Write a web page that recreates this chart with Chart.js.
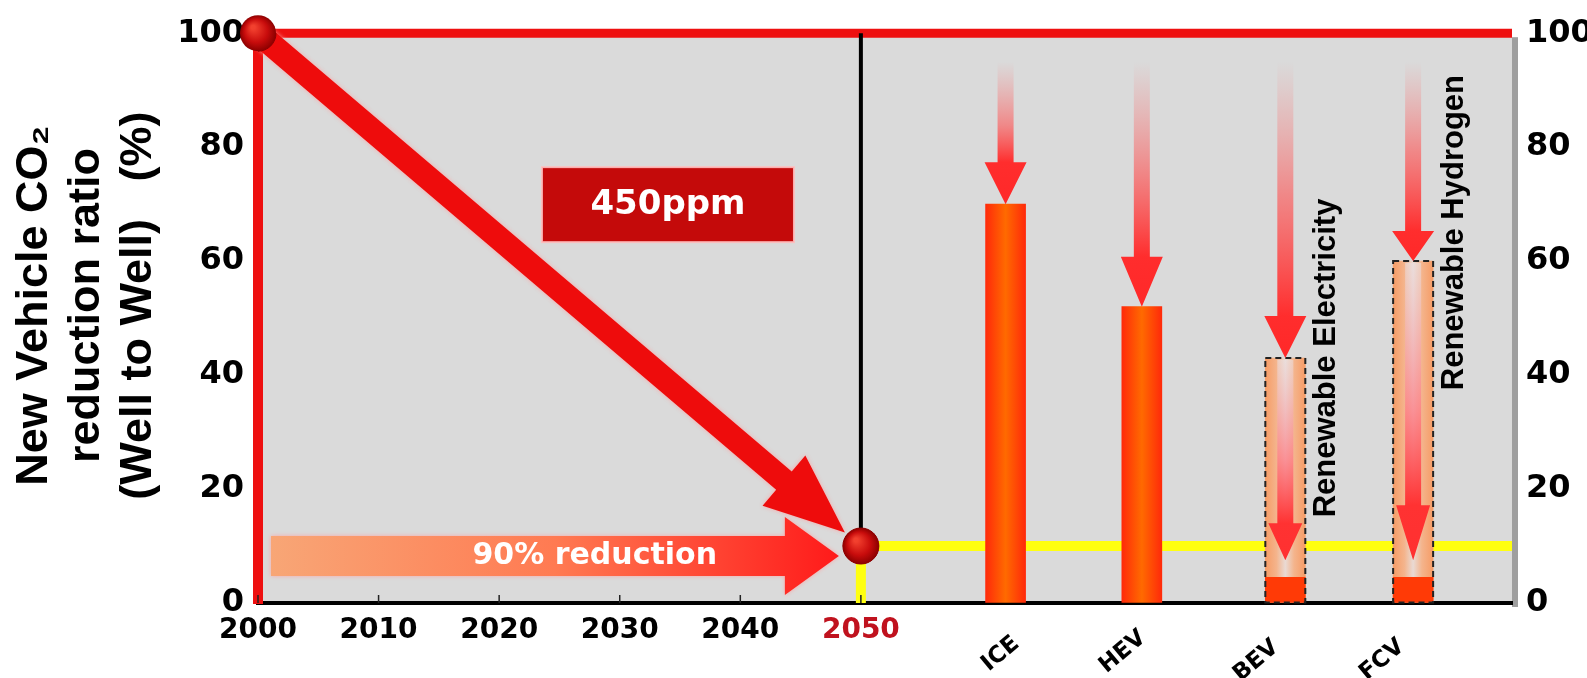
<!DOCTYPE html>
<html>
<head>
<meta charset="utf-8">
<script src="https://cdn.jsdelivr.net/npm/chart.js@4.4.1/dist/chart.umd.min.js"></script>
<style>
  html, body { margin: 0; padding: 0; background: #fff; }
  #wrap { width: 1587px; height: 678px; }
</style>
</head>
<body>
<div id="wrap"><canvas id="c" width="1587" height="678"></canvas></div>
<script>
// ---- data ----
// Reduction pathway for new vehicles (well to well), % of year-2000 level
const pathwayYears = [2000, 2050];
const pathwayRatio = [100, 10];
const yearTicks = [2000, 2010, 2020, 2030, 2040, 2050];
const ratioTicks = [0, 20, 40, 60, 80, 100];

// Vehicle columns (CO2 ratio, %)
const vehicles = ['ICE', 'HEV', 'BEV', 'FCV'];
const vehicleCO2 = [70, 52, 4.5, 4.5];          // BEV / FCV on renewable energy
const conventionalCO2 = [null, null, 43, 60];   // BEV / FCV on conventional energy
const energyNotes = [null, null, 'Renewable Electricity', 'Renewable Hydrogen'];

const headline = '450ppm';
const reductionLabel = '90% reduction';
const axisTitle = ['  New Vehicle CO\u2082', '  reduction ratio', '  (Well to Well)   (%)'];

// ---- layout / style ----
const layout = {
  xMax: 2104,
  slot: [2062, 2073.3, 2085.2, 2095.8],   // where each vehicle column sits on the year axis
  dropTop: 95,                             // value where the falling arrows fade in
  dropHead: [42, 50, 42, 30],
  innerHead: [0, 0, 37, 55],
  noteAt: [0, 0, 43, 65],                  // vertical centre of the rotated notes (value units)
  labelDx: [-5, -19, -29, -31],
  labelY: [654, 652, 661, 660],
  boxAt: [2034, 70]                        // centre of the 450ppm box (year, value)
};

const SANS = "'DejaVu Sans', sans-serif";
const ARIAL = "'Liberation Sans', Arial, sans-serif";

function hGrad(chart, cx, half, stops, fallback) {
  if (!isFinite(cx)) return fallback;
  const g = chart.ctx.createLinearGradient(cx - half, 0, cx + half, 0);
  stops.forEach(([o, c]) => g.addColorStop(o, c));
  return g;
}

const barFill = (c) => {
  if (c.type !== 'data' || !c.raw) return '#ff4a00';
  if (conventionalCO2[c.raw.k] != null) return '#ff3a06';
  const cx = c.chart.scales.x ? c.chart.scales.x.getPixelForValue(c.raw.x) : NaN;
  return hGrad(c.chart, cx, 20, [[0, '#ff2a0a'], [0.5, '#ff6a00'], [1, '#ff2a0a']], '#ff4a00');
};
const peachFill = (c) => {
  if (c.type !== 'data' || !c.raw) return '#f5b08a';
  const cx = c.chart.scales.x ? c.chart.scales.x.getPixelForValue(c.raw.x) : NaN;
  return hGrad(c.chart, cx, 20, [[0, '#f69c66'], [0.28, '#f4b48c'], [0.5, '#e9dad4'], [0.72, '#f4b48c'], [1, '#f69c66']], '#f5b08a');
};

function arrowPath(ctx, x0, y0, x1, y1, shaftHalf, headHalf, headLen) {
  const dx = x1 - x0, dy = y1 - y0, L = Math.hypot(dx, dy);
  const ux = dx / L, uy = dy / L, nx = -uy, ny = ux;
  const bx = x1 - ux * headLen, by = y1 - uy * headLen;
  ctx.beginPath();
  ctx.moveTo(x0 + nx * shaftHalf, y0 + ny * shaftHalf);
  ctx.lineTo(bx + nx * shaftHalf, by + ny * shaftHalf);
  ctx.lineTo(bx + nx * headHalf, by + ny * headHalf);
  ctx.lineTo(x1, y1);
  ctx.lineTo(bx - nx * headHalf, by - ny * headHalf);
  ctx.lineTo(bx - nx * shaftHalf, by - ny * shaftHalf);
  ctx.lineTo(x0 - nx * shaftHalf, y0 - ny * shaftHalf);
  ctx.closePath();
}

const decor = {
  id: 'decor',
  beforeDraw(chart) {
    const { ctx, chartArea: a } = chart;
    ctx.save();
    ctx.fillStyle = '#fff';
    ctx.fillRect(0, 0, chart.width, chart.height);
    ctx.fillStyle = '#9f9f9f';
    ctx.fillRect(a.right, a.top + 4, 6, a.bottom - a.top);
    ctx.fillStyle = '#dadada';
    ctx.fillRect(a.left, a.top, a.right - a.left, a.bottom - a.top);
    ctx.restore();
  },
  beforeDatasetsDraw(chart) {
    const { ctx, chartArea: a, scales: { x, y } } = chart;
    const pts = chart.getDatasetMeta(0).data;
    const p0 = pts[0], p1 = pts[1];
    const r = 18;
    ctx.save();
    // top frame line at 100 %
    ctx.strokeStyle = '#ee1010';
    ctx.lineWidth = 9;
    ctx.beginPath();
    ctx.moveTo(a.left - 5, y.getPixelForValue(100));
    ctx.lineTo(a.right, y.getPixelForValue(100));
    ctx.stroke();

    // 2050 divider
    const x50 = x.getPixelForValue(pathwayYears[1]);
    ctx.strokeStyle = '#000';
    ctx.lineWidth = 4;
    ctx.beginPath();
    ctx.moveTo(x50, a.top);
    ctx.lineTo(x50, p1.y - r);
    ctx.stroke();

    // target level
    const yT = y.getPixelForValue(pathwayRatio[1]);
    ctx.strokeStyle = '#ffff10';
    ctx.lineWidth = 10;
    ctx.beginPath();
    ctx.moveTo(x50, y.getPixelForValue(0));
    ctx.lineTo(x50, yT);
    ctx.lineTo(a.right, yT);
    ctx.stroke();

    // diagonal pathway arrow
    const L = Math.hypot(p1.x - p0.x, p1.y - p0.y);
    const ux = (p1.x - p0.x) / L, uy = (p1.y - p0.y) / L;
    ctx.shadowColor = 'rgba(255,160,160,0.9)';
    ctx.shadowBlur = 4;
    ctx.fillStyle = '#ee0c0c';
    arrowPath(ctx, p0.x, p0.y, p1.x - ux * (r + 3), p1.y - uy * (r + 3), 12, 33, 80);
    ctx.fill();

    // horizontal "90% reduction" arrow
    const hy = p1.y + 10, hx0 = a.left + 13, hx1 = p1.x - r - 4;
    const hg = ctx.createLinearGradient(hx0, 0, hx1, 0);
    hg.addColorStop(0, '#f8a676');
    hg.addColorStop(0.5, '#ff7a52');
    hg.addColorStop(1, '#ff1a1a');
    ctx.fillStyle = hg;
    arrowPath(ctx, hx0, hy, hx1, hy, 20, 39, 54);
    ctx.fill();
    ctx.shadowBlur = 0;
    ctx.fillStyle = '#fff';
    ctx.font = 'bold 30px ' + SANS;
    ctx.textAlign = 'center';
    ctx.textBaseline = 'middle';
    ctx.fillText(reductionLabel, hx0 + 0.63 * (hx1 - 54 - hx0), hy);

    // 450ppm box
    const bx = x.getPixelForValue(layout.boxAt[0]), by = y.getPixelForValue(layout.boxAt[1]);
    ctx.fillStyle = '#c40a0a';
    ctx.strokeStyle = 'rgba(255,190,190,0.9)';
    ctx.lineWidth = 2;
    ctx.fillRect(bx - 126, by - 37, 252, 75);
    ctx.strokeRect(bx - 126, by - 37, 252, 75);
    ctx.fillStyle = '#fff';
    ctx.font = 'bold 34px ' + SANS;
    ctx.fillText(headline, bx, by + 1);
    ctx.restore();
  },
  afterDatasetsDraw(chart) {
    const { ctx, chartArea: a, scales: { x, y } } = chart;
    ctx.save();
    // small inner ticks on the year axis
    ctx.strokeStyle = '#222';
    ctx.lineWidth = 1.5;
    yearTicks.forEach(v => {
      const px = x.getPixelForValue(v);
      ctx.beginPath(); ctx.moveTo(px, a.bottom); ctx.lineTo(px, a.bottom - 8); ctx.stroke();
    });

    // dashed outline of the conventional-energy columns
    const peach = chart.getDatasetMeta(2).data;
    ctx.setLineDash([6, 4]);
    ctx.strokeStyle = '#222';
    ctx.lineWidth = 2;
    peach.forEach(el => {
      const w = el.width;
      ctx.strokeRect(el.x - w / 2, el.y, w, el.base - el.y);
    });
    ctx.setLineDash([]);

    vehicles.forEach((name, i) => {
      const cx = x.getPixelForValue(layout.slot[i]);
      const top = conventionalCO2[i] != null ? conventionalCO2[i] : vehicleCO2[i];
      const y0 = y.getPixelForValue(layout.dropTop), y1 = y.getPixelForValue(top);
      const hl = layout.dropHead[i];
      // falling arrow onto the column
      const g = ctx.createLinearGradient(0, y0, 0, y1);
      g.addColorStop(0, 'rgba(255,110,110,0)');
      g.addColorStop(0.45, 'rgba(255,80,80,0.6)');
      g.addColorStop(Math.max(0.5, 1 - hl / (y1 - y0)), 'rgba(255,45,45,1)');
      g.addColorStop(1, '#ff2828');
      ctx.fillStyle = g;
      arrowPath(ctx, cx, y0, cx, y1, 8, 21, hl);
      ctx.fill();

      if (conventionalCO2[i] != null) {
        // arrow inside the column, down to the renewable level
        const iy0 = y1 + 2, iy1 = y.getPixelForValue(vehicleCO2[i] + 3);
        const ih = layout.innerHead[i];
        const gi = ctx.createLinearGradient(0, iy0, 0, iy1);
        gi.addColorStop(0, 'rgba(235,225,228,0.5)');
        gi.addColorStop(0.5, 'rgba(255,120,130,0.75)');
        gi.addColorStop(Math.max(0.55, 1 - ih / (iy1 - iy0)), 'rgba(255,50,50,1)');
        gi.addColorStop(1, '#ff3030');
        ctx.fillStyle = gi;
        arrowPath(ctx, cx, iy0, cx, iy1, 8, 17, ih);
        ctx.fill();

        // energy note
        ctx.save();
        ctx.translate(cx + 41, y.getPixelForValue(layout.noteAt[i]));
        ctx.rotate(-Math.PI / 2);
        ctx.fillStyle = '#000';
        ctx.font = 'bold 31px ' + ARIAL;
        ctx.textAlign = 'center';
        ctx.textBaseline = 'middle';
        ctx.fillText(energyNotes[i], 0, 0);
        ctx.restore();
      }

      // category label under the axis
      ctx.save();
      ctx.translate(cx + layout.labelDx[i], layout.labelY[i]);
      ctx.rotate(-40 * Math.PI / 180);
      ctx.fillStyle = '#000';
      ctx.font = 'bold 23px ' + SANS;
      ctx.textAlign = 'center';
      ctx.textBaseline = 'middle';
      ctx.fillText(name, 0, 0);
      ctx.restore();
    });

    // shaded balls on the pathway points
    chart.getDatasetMeta(0).data.forEach(el => {
      const rg = ctx.createRadialGradient(el.x - 5, el.y - 6, 2, el.x, el.y, 18);
      rg.addColorStop(0, '#f2402e');
      rg.addColorStop(0.6, '#c80c0c');
      rg.addColorStop(1, '#8c0000');
      ctx.fillStyle = rg;
      ctx.beginPath();
      ctx.arc(el.x, el.y, 18, 0, Math.PI * 2);
      ctx.fill();
    });
    ctx.restore();
  }
};

Chart.defaults.font.family = SANS;
Chart.defaults.font.weight = 'bold';
Chart.defaults.color = '#000';

new Chart(document.getElementById('c'), {
  type: 'bar',
  data: {
    datasets: [
      {
        type: 'line',
        label: 'Pathway',
        data: pathwayYears.map((yr, i) => ({ x: yr, y: pathwayRatio[i] })),
        showLine: false,
        pointRadius: 18,
        pointHoverRadius: 18,
        pointBackgroundColor: '#c80c0c',
        pointBorderColor: '#8c0000',
        pointBorderWidth: 1,
        order: 0
      },
      {
        type: 'bar',
        label: 'Vehicle CO2',
        data: vehicleCO2.map((v, i) => ({ x: layout.slot[i], y: v, k: i })),
        backgroundColor: barFill,
        borderWidth: 0,
        barThickness: 40,
        grouped: false,
        order: 1
      },
      {
        type: 'bar',
        label: 'Conventional energy',
        data: conventionalCO2.map((v, i) => ({ x: layout.slot[i], y: v, k: i })).filter(d => d.y != null),
        backgroundColor: peachFill,
        borderWidth: 0,
        barThickness: 40,
        grouped: false,
        order: 2
      }
    ]
  },
  options: {
    responsive: false,
    animation: false,
    devicePixelRatio: 1,
    layout: { padding: { top: 27, right: 0, bottom: 0, left: 0 } },
    plugins: { legend: { display: false }, tooltip: { enabled: false } },
    scales: {
      x: {
        type: 'linear',
        min: 2000,
        max: layout.xMax,
        offset: false,
        afterBuildTicks: s => { s.ticks = yearTicks.map(v => ({ value: v })); },
        afterFit: s => { s.height = 75; },
        grid: { display: true, drawOnChartArea: false, drawTicks: false, offset: false },
        border: { display: true, color: '#000', width: 4 },
        ticks: {
          font: { size: 28, weight: 'bold' },
          color: c => (c.tick && c.tick.value === 2050 ? '#c0121e' : '#000'),
          padding: 11,
          maxRotation: 0,
          autoSkip: false,
          callback: v => String(v)
        }
      },
      y: {
        position: 'left',
        min: 0,
        max: 100,
        afterBuildTicks: s => { s.ticks = ratioTicks.map(v => ({ value: v })); },
        afterFit: s => { s.width = 258; },
        grid: { display: true, drawOnChartArea: false, drawTicks: false },
        border: { display: true, color: '#ee1010', width: 10 },
        ticks: { font: { size: 32, weight: 'bold' }, padding: 14 },
        title: {
          display: true,
          text: axisTitle,
          font: { family: ARIAL, size: 45, weight: 'bold', lineHeight: 1.16 },
          padding: { top: 8, bottom: 0 },
          color: '#000'
        }
      },
      y2: {
        position: 'right',
        min: 0,
        max: 100,
        afterBuildTicks: s => { s.ticks = ratioTicks.map(v => ({ value: v })); },
        afterFit: s => { s.width = 75; },
        grid: { display: false },
        border: { display: false },
        ticks: { font: { size: 32, weight: 'bold' }, padding: 6 }
      }
    }
  },
  plugins: [decor]
});
</script>
</body>
</html>
